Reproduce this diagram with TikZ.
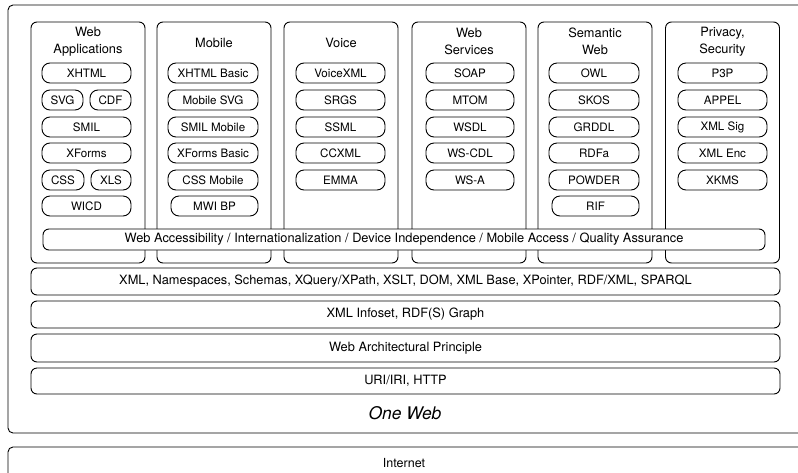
\documentclass[tikz,border=0pt]{standalone}
\usepackage{fontspec}
\setmainfont{TeX Gyre Heros}
\begin{document}
\begin{tikzpicture}[x=1pt,y=-1pt,
  base/.style={draw, line width=0.9pt, inner sep=0pt, fill=white},
  outerbox/.style={base, rounded corners=5pt},
  colbox/.style={base, rounded corners=6pt, minimum width=114pt, minimum height=241pt},
  coltitle/.style={align=center, inner sep=0pt, font=\fontsize{12.8}{17}\selectfont},
  item/.style={base, rounded corners=8pt, minimum height=20pt, minimum width=89pt, font=\fontsize{11.6}{13}\selectfont},
  halfitem/.style={item, minimum width=41pt},
  layer/.style={base, rounded corners=6pt, minimum width=749pt, font=\fontsize{12.8}{15}\selectfont},
  bar/.style={base, rounded corners=6pt, minimum width=722pt, minimum height=21pt, font=\fontsize{12.8}{14}\selectfont},
  plain/.style={inner sep=0pt, font=\fontsize{12.5}{15}\selectfont}
]
\useasboundingbox (0,0) rectangle (798,472);
\clip (0,0) rectangle (798,472);
% outer boxes
\node[outerbox, minimum width=802pt, minimum height=428pt] (oneweb) at (409,219) {};
\node[outerbox, minimum width=802pt, minimum height=53pt] (internet) at (409,473.5) {};
\node[plain] (internettext) at (404,463) {Internet};
\node[plain, font=\fontsize{17.4}{20}\selectfont\itshape] (onewebtext) at (405,413) {One Web};
% columns
\node[colbox] (c1) at (88,142.5) {};
\node[colbox] (c2) at (214,142.5) {};
\node[colbox] (c3) at (341,142.5) {};
\node[colbox] (c4) at (469,142.5) {};
\node[colbox] (c5) at (595,142.5) {};
\node[colbox] (c6) at (722.5,142.5) {};
% titles
\node[coltitle] (t1) at (88,41.5) {Web\\Applications};
\node[coltitle] (t2) at (214,43) {Mobile};
\node[coltitle] (t3) at (341,43) {Voice};
\node[coltitle] (t4) at (469,41.5) {Web\\Services};
\node[coltitle] (t5) at (595,41.5) {Semantic\\Web};
\node[coltitle] (t6) at (722.5,41.5) {Privacy,\\Security};
% column 1
\node[item] (a1) at (86.5,73) {XHTML};
\node[halfitem] (a2) at (62.5,100) {SVG};
\node[halfitem] (a3) at (110.5,100) {CDF};
\node[item] (a4) at (86.5,127) {SMIL};
\node[item] (a5) at (86.5,153) {XForms};
\node[halfitem, minimum width=42pt] (a6) at (63,180) {CSS};
\node[halfitem, minimum width=40pt] (a7) at (111,180) {XLS};
\node[item] (a8) at (86.5,206) {WICD};
% column 2
\node[item, minimum width=90pt] (b1) at (213,73) {XHTML Basic};
\node[item, minimum width=90pt] (b2) at (213,100) {Mobile SVG};
\node[item, minimum width=90pt] (b3) at (213,127) {SMIL Mobile};
\node[item, minimum width=90pt] (b4) at (213,153) {XForms Basic};
\node[item, minimum width=90pt] (b5) at (213,180) {CSS Mobile};
\node[item, minimum width=87pt] (b6) at (214.5,206) {MWI BP};
% column 3
\node[item] (v1) at (340.5,73) {VoiceXML};
\node[item] (v2) at (340.5,100) {SRGS};
\node[item] (v3) at (340.5,127) {SSML};
\node[item] (v4) at (340.5,153) {CCXML};
\node[item] (v5) at (340.5,180) {EMMA};
% column 4
\node[item, minimum width=88pt] (w1) at (470,73) {SOAP};
\node[item, minimum width=88pt] (w2) at (470,100) {MTOM};
\node[item, minimum width=88pt] (w3) at (470,127) {WSDL};
\node[item, minimum width=88pt] (w4) at (470,153) {WS-CDL};
\node[item, minimum width=88pt] (w5) at (470,180) {WS-A};
% column 5
\node[item, minimum width=90pt] (s1) at (594,73) {OWL};
\node[item, minimum width=90pt] (s2) at (594,100) {SKOS};
\node[item, minimum width=90pt] (s3) at (594,127) {GRDDL};
\node[item, minimum width=90pt] (s4) at (594,153) {RDFa};
\node[item, minimum width=90pt] (s5) at (594,180) {POWDER};
\node[item, minimum width=87pt] (s6) at (595.5,206) {RIF};
% column 6
\node[item] (p1) at (722.5,73) {P3P};
\node[item] (p2) at (722.5,100) {APPEL};
\node[item] (p3) at (722.5,127) {XML Sig};
\node[item] (p4) at (722.5,153) {XML Enc};
\node[item] (p5) at (722.5,180) {XKMS};
% bar
\node[bar] (wai) at (404,239.5) {Web Accessibility / Internationalization / Device Independence / Mobile Access / Quality Assurance};
% layers
\node[layer, minimum height=27pt] (l1) at (405.5,281.5) {XML, Namespaces, Schemas, XQuery/XPath, XSLT, DOM, XML Base, XPointer, RDF/XML, SPARQL};
\node[layer, minimum height=27pt] (l2) at (405.5,314.5) {XML Infoset, RDF(S) Graph};
\node[layer, minimum height=28pt] (l3) at (405.5,348) {Web Architectural Principle};
\node[layer, minimum height=26pt] (l4) at (405.5,381) {URI/IRI, HTTP};
\end{tikzpicture}
\end{document}
